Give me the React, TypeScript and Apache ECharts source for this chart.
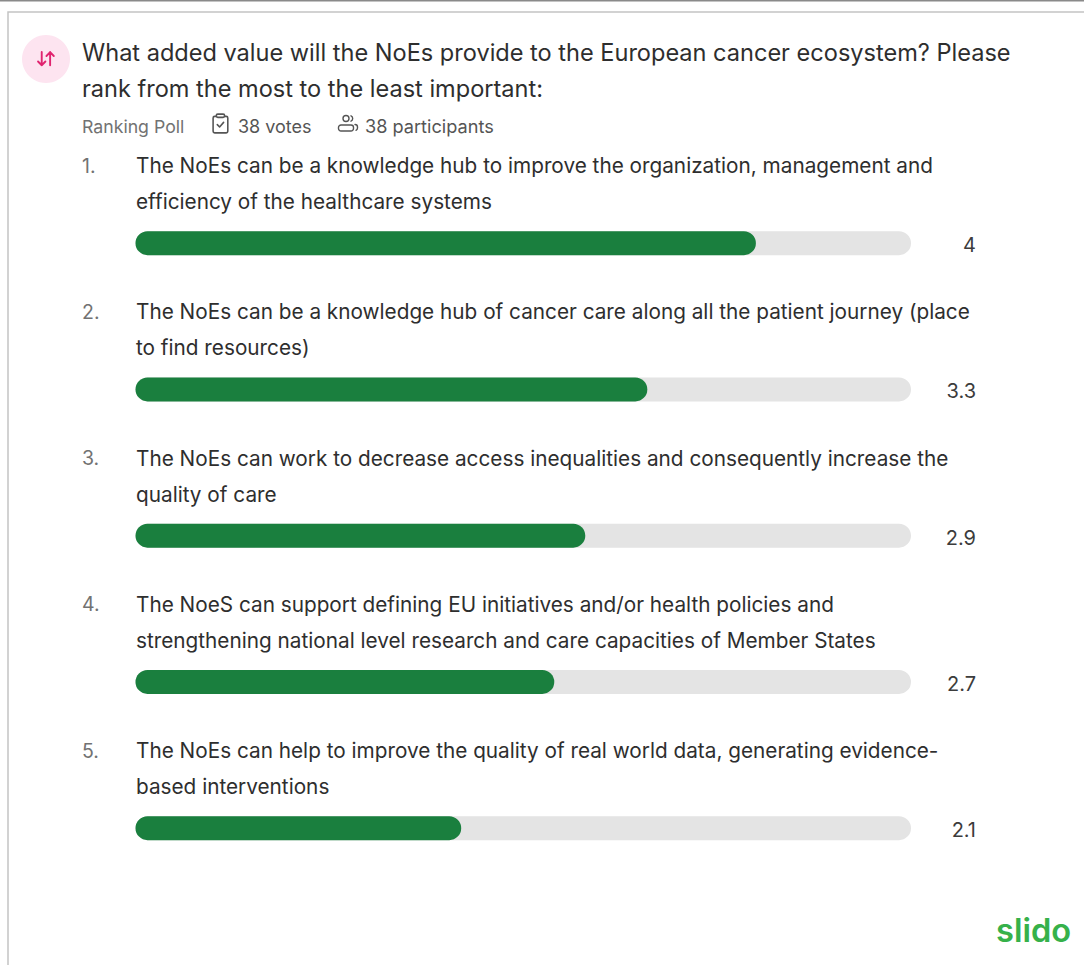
import React, { useEffect, useRef } from "react";
import * as echarts from "echarts";

const questionLines = [
  "What added value will the NoEs provide to the European cancer ecosystem? Please",
  "rank from the most to the least important:",
];
const pollType = "Ranking Poll";
const votes = "38 votes";
const participants = "38 participants";
const ranks = ["1.", "2.", "3.", "4.", "5."];
const optionLines = [
  ["The NoEs can be a knowledge hub to improve the organization, management and", "efficiency of the healthcare systems"],
  ["The NoEs can be a knowledge hub of cancer care along all the patient journey (place", "to find resources)"],
  ["The NoEs can work to decrease access inequalities and consequently increase the", "quality of care"],
  ["The NoeS can support defining EU initiatives and/or health policies and", "strengthening national level research and care capacities of Member States"],
  ["The NoEs can help to improve the quality of real world data, generating evidence-", "based interventions"],
];
const scores = [4, 3.3, 2.9, 2.7, 2.1];
const maxScore = 5;

const FONT = "Inter";
const INK = "#2e2e2e";
const MUTED = "#727272";

const clipboardPath =
  "M5 3H3.5A1.5 1.5 0 0 0 2 4.5v12A1.5 1.5 0 0 0 3.5 18h11a1.5 1.5 0 0 0 1.5-1.5v-12A1.5 1.5 0 0 0 14.5 3H13M6.5 1h5A1.5 1.5 0 0 1 13 2.5v0A1.5 1.5 0 0 1 11.500 4h-5A1.5 1.5 0 0 1 5 2.5v0A1.5 1.5 0 0 1 6.500 1zM6 10.500l2.200 2.200L12 8.500";
const peoplePath =
  "M8 1.500a3 3 0 1 1 0 6a3 3 0 0 1 0-6zM3 11h10a2.500 2.500 0 0 1 2.500 2.500v1A2.500 2.500 0 0 1 13 17H3a2.500 2.500 0 0 1-2.500-2.500v-1A2.500 2.500 0 0 1 3 11zM13 1.800a3 3 0 0 1 0 5.400M17 10.500a2.500 2.500 0 0 1 2.500 2.500v1a2.500 2.500 0 0 1-1.500 2.300";
const arrowsPath = "M4.500 1v12M1 9.500l3.500 3.500L8 9.500M12.500 13V1M9 4.500L12.500 1L16 4.500";

echarts.graphic.registerShape("clipboardIcon", echarts.graphic.extendPath(clipboardPath, {}) as any);
echarts.graphic.registerShape("peopleIcon", echarts.graphic.extendPath(peoplePath, {}) as any);
echarts.graphic.registerShape("arrowsIcon", echarts.graphic.extendPath(arrowsPath, {}) as any);

const BAND = 146.25;
const BAR_TOP_OFFSET = 165;

function textEl(text: string, x: number, y: number, fontSize: number, fill: string, extra: object = {}) {
  return {
    type: "text",
    x,
    y,
    silent: true,
    style: { text, fontSize, fontFamily: FONT, fill, textVerticalAlign: "middle", ...extra },
  };
}

function iconStroke(stroke: string, lineWidth: number) {
  return { fill: "none", stroke, lineWidth, lineCap: "round", lineJoin: "round" };
}

export default function App() {
  const ref = useRef<HTMLDivElement>(null);

  useEffect(() => {
    document.body.style.margin = "0";
    const chart = echarts.init(ref.current!, undefined, { renderer: "svg" });

    const optionText = optionLines.flatMap((lines, i) => [
      textEl(ranks[i], 82, BAR_TOP_OFFSET + 0.5 + i * BAND, 19.5, MUTED),
      textEl(lines[0], 136, BAR_TOP_OFFSET + 0.5 + i * BAND, 20.75, INK),
      textEl(lines[1], 136, BAR_TOP_OFFSET + 36.5 + i * BAND, 20.75, INK),
    ]);

    chart.setOption({
      animation: false,
      backgroundColor: "#ffffff",
      grid: { left: 135.5, width: 775.5, top: 170, height: 731.25, containLabel: false },
      xAxis: { type: "value", min: 0, max: maxScore, show: false },
      yAxis: { type: "category", inverse: true, data: ranks, show: false },
      series: [
        {
          name: "track",
          type: "bar",
          data: scores.map(() => maxScore),
          barWidth: 24,
          barGap: "-100%",
          silent: true,
          itemStyle: { color: "#e4e4e4", borderRadius: 12 },
          label: {
            show: true,
            position: "right",
            distance: 65,
            align: "right",
            offset: [0, 2],
            fontFamily: FONT,
            fontSize: 20,
            color: "#3c3c3c",
            formatter: (p: any) => String(scores[p.dataIndex]),
          },
        },
        {
          name: "score",
          type: "bar",
          data: scores,
          barWidth: 24,
          barGap: "-100%",
          silent: true,
          itemStyle: { color: "#1a7f3e", borderRadius: 12 },
        },
      ],
      graphic: { elements: [
        { type: "line", shape: { x1: 0, y1: 0.5, x2: 1084, y2: 0.5 }, style: { stroke: "#8a8a8a", lineWidth: 2 } },
        { type: "polyline", shape: { points: [[8, 965], [8, 12], [1084, 12]] }, style: { fill: "none", stroke: "#c4c4c4", lineWidth: 1.5 } },
        { type: "circle", shape: { cx: 46, cy: 59, r: 24 }, style: { fill: "#fde4f0" } },
        { type: "arrowsIcon", x: 37, y: 51, scaleX: 1.05, scaleY: 1.1, style: iconStroke("#e0246f", 1.8) },
        textEl(questionLines[0], 82, 52, 23.55, INK),
        textEl(questionLines[1], 82, 88, 23.55, INK),
        textEl(pollType, 82, 126.5, 17.7, MUTED),
        { type: "clipboardIcon", x: 211, y: 113, scaleX: 1.05, scaleY: 1.1, style: iconStroke("#555555", 1.5) },
        textEl(votes, 238, 126, 18, "#555555"),
        { type: "peopleIcon", x: 338, y: 114, scaleX: 1, scaleY: 1, style: iconStroke("#555555", 1.4) },
        textEl(participants, 365, 126, 18.15, "#555555"),
        ...optionText,
        textEl("slido", 996, 930, 32.6, "#36b14a", { fontWeight: 600 }),
      ] },
    });
    return () => chart.dispose();
  }, []);

  return <div ref={ref} style={{ position: "fixed", left: 0, top: 0, width: 1084, height: 965 }} />;
}
